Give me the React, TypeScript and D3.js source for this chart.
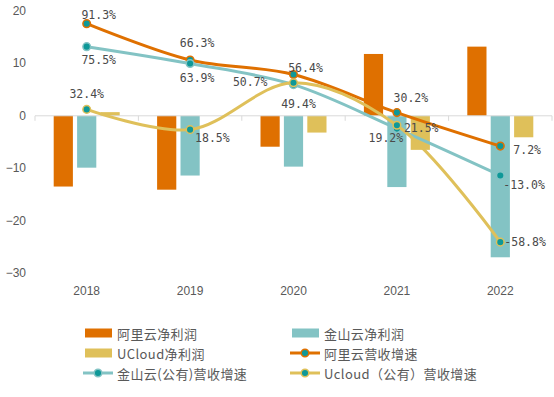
import React from 'react';
import * as d3 from 'd3';

// data
const years = ['2018', '2019', '2020', '2021', '2022'];
const aliProfit = [-13.5, -14.1, -5.9, 11.8, 13.2];
const ksProfit = [-9.9, -11.4, -9.7, -13.6, -27.0];
const ucProfit = [0.7, 0, -3.2, -6.5, -4.1];
const aliGrowth = [91.3, 66.3, 56.4, 30.2, 7.2];
const ksGrowth = [75.5, 63.9, 49.4, 19.2, -13.0];
const ucGrowth = [32.4, 18.5, 50.7, 21.5, -58.8];
const yTicks = [20, 10, 0, -10, -20, -30];

const barNames = ['阿里云净利润', '金山云净利润', 'UCloud净利润'];
const lineNames = ['阿里云营收增速', '金山云(公有)营收增速', 'Ucloud（公有）营收增速'];

const ORANGE = '#DF7000';
const TEAL = '#83C3C4';
const YELLOW = '#DFC05A';
const DOT = '#0E9898';

// label offsets (dx, dy, anchor) relative to each point
const labelPos: [number, number, string][][] = [
  [[12, -9, 'middle'], [7, -17, 'middle'], [12, -6, 'middle'], [14, -15, 'middle'], [13, 4, 'start']],
  [[12, 13, 'middle'], [7, 14, 'middle'], [5, 19, 'middle'], [-11, 9, 'middle'], [3, 10, 'start']],
  [[0, -15, 'middle'], [5, 8, 'start'], [-26, -1, 'end'], [7, 2.5, 'start'], [4, 0, 'start']],
];

const width = 554;
const height = 397;

const App: React.FC = () => {
  const x = d3.scaleBand().domain(years).range([35, 552]).padding(0);
  const inner = d3.scaleBand().domain(['a', 'k', 'u']).range([-33, 33]).paddingInner(0.18);
  const y = d3.scaleLinear().domain([-30, 20]).range([273, 11]);
  const y2 = d3.scaleLinear().domain([-80, 100]).range([273, 11]);
  const cx = (d: string) => (x(d) as number) + x.bandwidth() / 2;

  const bars = [
    { key: 'a', vals: aliProfit, color: ORANGE },
    { key: 'k', vals: ksProfit, color: TEAL },
    { key: 'u', vals: ucProfit, color: YELLOW },
  ];
  const lines = [
    { vals: aliGrowth, color: ORANGE },
    { vals: ksGrowth, color: TEAL },
    { vals: ucGrowth, color: YELLOW },
  ];

  const lineGen = d3.line<number>()
    .x((_, i) => cx(years[i]))
    .y(d => y2(d))
    .curve(d3.curveCatmullRom.alpha(0.5));

  const fmt = (v: number) => v.toFixed(1) + '%';

  const legend = [
    { type: 'bar', name: barNames[0], color: ORANGE, x: 85, y: 333 },
    { type: 'bar', name: barNames[1], color: TEAL, x: 292, y: 333 },
    { type: 'bar', name: barNames[2], color: YELLOW, x: 85, y: 353 },
    { type: 'line', name: lineNames[0], color: ORANGE, x: 292, y: 353 },
    { type: 'line', name: lineNames[1], color: TEAL, x: 85, y: 373 },
    { type: 'line', name: lineNames[2], color: YELLOW, x: 292, y: 373 },
  ];

  return (
    <svg width={width} height={height} style={{ position: 'absolute', left: 0, top: 0, background: '#fff' }}>
      {/* y axis labels */}
      <g fontFamily="Liberation Sans, Arial, sans-serif" fontSize={12} fill="#595959">
        {yTicks.map(t => (
          <text key={t} x={26} y={y(t)} textAnchor="end" dominantBaseline="central">
            {d3.format('')(t).replace('-', '\u2212')}
          </text>
        ))}
        {years.map(d => (
          <text key={d} x={cx(d)} y={291} textAnchor="middle" dominantBaseline="central">{d}</text>
        ))}
      </g>

      {/* bars */}
      {bars.map(s => (
        <g key={s.key} fill={s.color}>
          {s.vals.map((v, i) => (
            <rect
              key={i}
              x={cx(years[i]) + (inner(s.key) as number)}
              y={Math.min(y(v), y(0))}
              width={inner.bandwidth()}
              height={Math.abs(y(v) - y(0))}
            />
          ))}
        </g>
      ))}

      {/* x axis */}
      <line x1={35} x2={552} y1={y(0)} y2={y(0)} stroke="#D9D9D9" strokeWidth={1} />
      {[...years.map(d => x(d) as number), 552].map((t, i) => (
        <line key={i} x1={t} x2={t} y1={y(0)} y2={y(0) + 5} stroke="#D9D9D9" strokeWidth={1} />
      ))}

      {/* lines */}
      {lines.map((s, si) => (
        <g key={si}>
          <path d={lineGen(s.vals) as string} fill="none" stroke={s.color} strokeWidth={3} strokeLinecap="round" />
          {s.vals.map((v, i) => (
            <circle key={i} cx={cx(years[i])} cy={y2(v)} r={3.8} fill={DOT} stroke={s.color} strokeWidth={1.5} />
          ))}
        </g>
      ))}

      {/* data labels */}
      <g fontFamily="DejaVu Sans Mono, monospace" fontSize={11.5} fill="#4a4a4a">
        {lines.map((s, si) =>
          s.vals.map((v, i) => {
            const [dx, dy, anchor] = labelPos[si][i];
            return (
              <text
                key={`${si}-${i}`}
                x={cx(years[i]) + dx}
                y={y2(v) + dy}
                textAnchor={anchor as any}
                dominantBaseline="central"
              >
                {fmt(v)}
              </text>
            );
          })
        )}
      </g>

      {/* legend */}
      <g fontFamily="Noto Sans CJK SC, sans-serif" fontSize={13} fill="#595959">
        {legend.map(l => (
          <g key={l.name}>
            {l.type === 'bar' ? (
              <rect x={l.x} y={l.y - 4.5} width={27} height={9} fill={l.color} />
            ) : (
              <g>
                <line x1={l.x - 2} x2={l.x + 28} y1={l.y} y2={l.y} stroke={l.color} strokeWidth={3} />
                <circle cx={l.x + 13} cy={l.y} r={3.8} fill={DOT} stroke={l.color} strokeWidth={1.5} />
              </g>
            )}
            <text x={l.x + 32} y={l.y} dominantBaseline="central" letterSpacing={0.4}>{l.name}</text>
          </g>
        ))}
      </g>
    </svg>
  );
};

export default App;
